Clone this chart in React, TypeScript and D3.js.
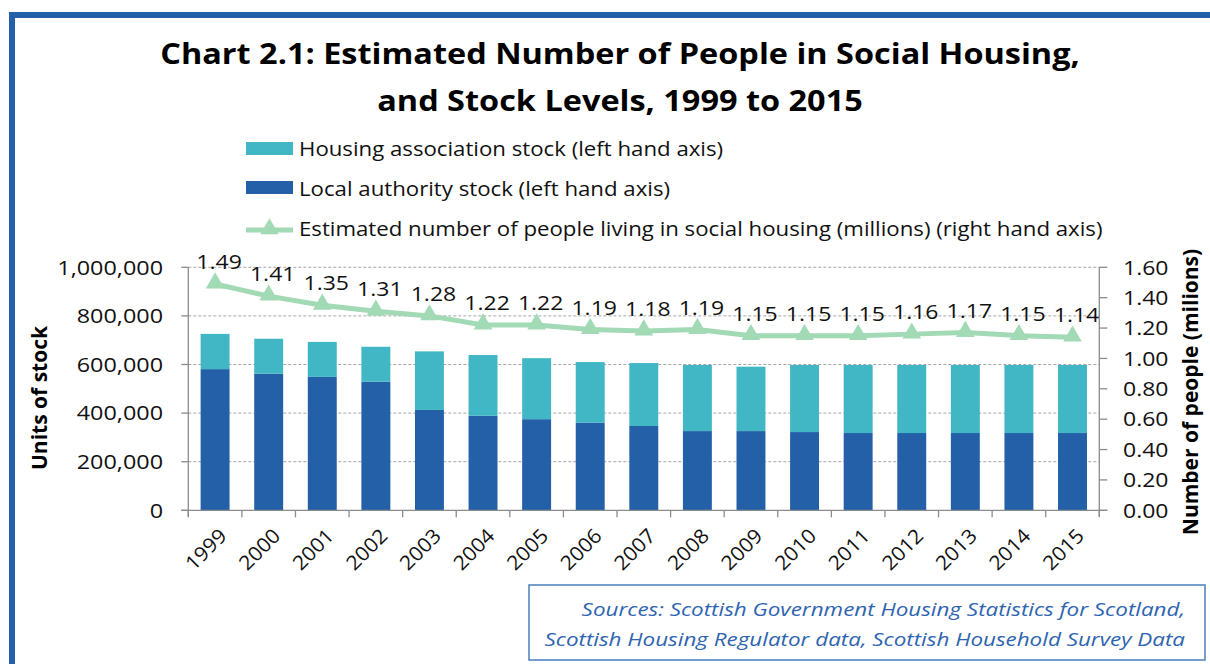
import React from "react";
import * as d3 from "d3";

const years = ["1999","2000","2001","2002","2003","2004","2005","2006","2007","2008","2009","2010","2011","2012","2013","2014","2015"];
const localAuthority = [581000,562000,549000,529000,413000,389000,375000,361000,347000,326000,326000,322000,318000,318000,318000,318000,318000];
const housingAssociation = [145000,144000,144000,144000,241000,250000,251000,249000,259000,272000,265000,276000,280000,280000,280000,280000,280000];
const people = [1.49,1.41,1.35,1.31,1.28,1.22,1.22,1.19,1.18,1.19,1.15,1.15,1.15,1.16,1.17,1.15,1.14];
const leftTicks = [0,200000,400000,600000,800000,1000000];
const rightTicks = [0,0.2,0.4,0.6,0.8,1.0,1.2,1.4,1.6];

const titleLines = ["Chart 2.1: Estimated Number of People in Social Housing,", "and Stock Levels, 1999 to 2015"];
const legendItems = [
  "Housing association stock (left hand axis)",
  "Local authority stock (left hand axis)",
  "Estimated number of people living in social housing (millions) (right hand axis)",
];
const sourceLines = [
  "Sources: Scottish Government Housing Statistics for Scotland,",
  "Scottish Housing Regulator data, Scottish Household Survey Data",
];

const HA_COLOR = "#41b6c4";
const LA_COLOR = "#2360a8";
const LINE_COLOR = "#a1dab4";
const AXIS_COLOR = "#8c8c8c";
const FONT = "'Open Sans', Lato, sans-serif";

type TProps = {
  x: number; y: number; sx?: number; rot?: number; anchor?: "start" | "middle" | "end";
  size: number; weight?: number; italic?: boolean; fill?: string; dy?: string; children: React.ReactNode;
};
function T({ x, y, sx = 1, rot = 0, anchor = "start", size, weight = 400, italic = false, fill = "#111", dy, children }: TProps) {
  return (
    <text
      transform={`translate(${x},${y})${rot ? ` rotate(${rot})` : ""} scale(${sx},1)`}
      textAnchor={anchor}
      fontSize={size}
      fontWeight={weight}
      fontStyle={italic ? "italic" : "normal"}
      fill={fill}
      dy={dy}
    >
      {children}
    </text>
  );
}

export default function App() {
  const left = 188.3, right = 1099.3, top = 267.3, bottom = 510.3;
  const x = d3.scaleBand<string>().domain(years).range([left, right]).paddingInner(0.46).paddingOuter(0.23);
  const yL = d3.scaleLinear().domain([0, 1000000]).range([bottom, top]);
  const yR = d3.scaleLinear().domain([0, 1.6]).range([bottom, top]);
  const fmt = d3.format(",");
  const f2 = d3.format(".2f");
  const cx = (y: string) => (x(y) as number) + x.bandwidth() / 2;
  const line = d3.line<number>().x((_, i) => cx(years[i])).y((d) => yR(d));
  const tri = d3.symbol().type(d3.symbolTriangle).size(150)();
  const step = x.step();
  const boundaries = years.map((y) => (x(y) as number) - (step - x.bandwidth()) / 2).concat([right]);

  return (
    <svg width={1210} height={664} style={{ position: "absolute", left: 0, top: 0, background: "#fff" }} fontFamily={FONT}>
      <rect x={0} y={0} width={1210} height={664} fill="#fff" />
      <rect x={12} y={15} width={1250} height={720} fill="none" stroke="#2360a8" strokeWidth={6} />

      {titleLines.map((t, i) => (
        <T key={t} x={620} y={63.5 + i * 47.5} sx={1.12} anchor="middle" size={29} weight={700} fill="#000">{t}</T>
      ))}

      {/* legend */}
      <rect x={246} y={142} width={47} height={13} fill={HA_COLOR} />
      <rect x={246} y={181} width={47} height={13} fill={LA_COLOR} />
      <line x1={246} x2={293} y1={230} y2={230} stroke={LINE_COLOR} strokeWidth={5} />
      <path d={tri as string} transform={`translate(269.5,229)`} fill={LINE_COLOR} />
      {legendItems.map((t, i) => (
        <T key={t} x={299} y={156 + i * 40} sx={1.14} size={19.5}>{t}</T>
      ))}

      {/* gridlines */}
      {leftTicks.filter((t) => t > 0).map((t) => (
        <line key={t} x1={left} x2={right} y1={yL(t)} y2={yL(t)} stroke="#a6a6a6" strokeWidth={1} strokeDasharray="3,2" />
      ))}

      {/* bars */}
      {years.map((y, i) => (
        <g key={y}>
          <rect x={x(y)} y={yL(localAuthority[i])} width={x.bandwidth()} height={bottom - yL(localAuthority[i])} fill={LA_COLOR} />
          <rect x={x(y)} y={yL(localAuthority[i] + housingAssociation[i])} width={x.bandwidth()} height={yL(localAuthority[i]) - yL(localAuthority[i] + housingAssociation[i])} fill={HA_COLOR} />
        </g>
      ))}

      {/* axes */}
      <line x1={left} x2={left} y1={top} y2={bottom + 6} stroke={AXIS_COLOR} strokeWidth={1.3} />
      {leftTicks.map((t) => (
        <g key={t}>
          <line x1={left - 7} x2={left} y1={yL(t)} y2={yL(t)} stroke={AXIS_COLOR} strokeWidth={1.3} />
          <T x={163} y={yL(t)} dy="0.36em" sx={1.17} anchor="end" size={20}>{fmt(t)}</T>
        </g>
      ))}
      <line x1={right} x2={right} y1={top} y2={bottom + 6} stroke={AXIS_COLOR} strokeWidth={1.3} />
      {rightTicks.map((t) => (
        <g key={t}>
          <line x1={right} x2={right + 8} y1={yR(t)} y2={yR(t)} stroke={AXIS_COLOR} strokeWidth={1.3} />
          <T x={1123} y={yR(t)} dy="0.36em" sx={1.15} size={20}>{f2(t)}</T>
        </g>
      ))}
      <line x1={left - 7} x2={right + 8} y1={bottom} y2={bottom} stroke={AXIS_COLOR} strokeWidth={1.3} />
      {boundaries.map((b, i) => (
        <line key={i} x1={b} x2={b} y1={bottom} y2={bottom + 7} stroke={AXIS_COLOR} strokeWidth={1.3} />
      ))}
      {years.map((y) => (
        <T key={y} x={cx(y) + 3} y={bottom + 17} rot={-45} sx={1.06} anchor="end" dy="0.7em" size={20}>{y}</T>
      ))}

      {/* axis titles */}
      <T x={47} y={398} rot={-90} anchor="middle" size={21} weight={700} fill="#000">Units of stock</T>
      <T x={1198} y={392} rot={-90} anchor="middle" size={21} weight={700} fill="#000">Number of people (milions)</T>

      {/* line */}
      <path d={line(people) as string} fill="none" stroke={LINE_COLOR} strokeWidth={5} />
      {people.map((p, i) => (
        <path key={i} d={tri as string} transform={`translate(${cx(years[i])},${yR(p) - 1})`} fill={LINE_COLOR} />
      ))}
      {people.map((p, i) => (
        <T key={i} x={cx(years[i]) + 4} y={yR(p) - 15} sx={1.15} anchor="middle" size={20}>{f2(p)}</T>
      ))}

      {/* source box */}
      <rect x={529} y={585} width={676} height={75} fill="#fff" stroke="#4a7ebb" strokeWidth={1.5} />
      {sourceLines.map((t, i) => (
        <T key={t} x={1185} y={616 + i * 30} sx={1.18} anchor="end" size={19} italic fill="#2e64b0">{t}</T>
      ))}
    </svg>
  );
}
